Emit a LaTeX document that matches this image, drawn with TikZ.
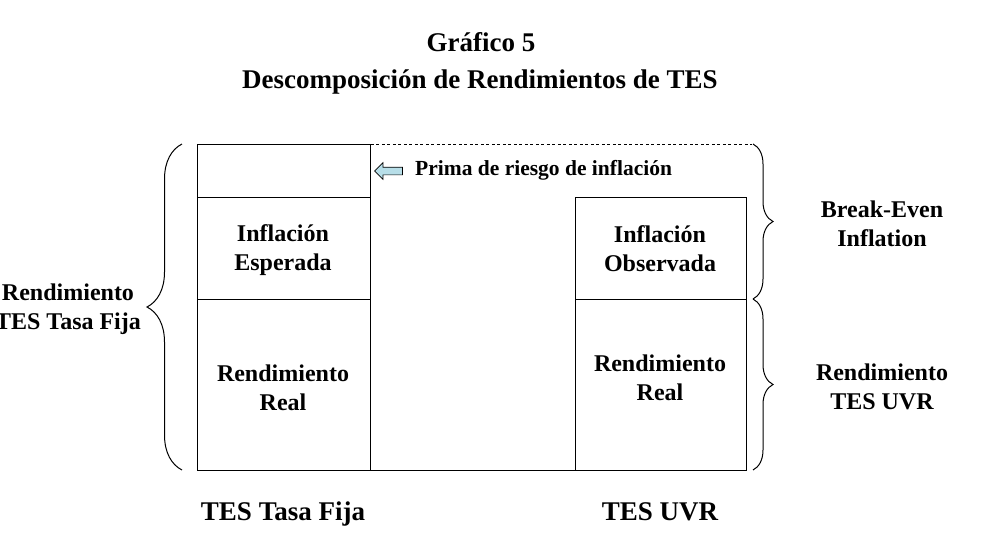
\documentclass[tikz,border=0pt]{standalone}
\usepackage{fontspec}
\setmainfont{Liberation Serif}
\usetikzlibrary{decorations.pathreplacing,shapes.arrows}
\definecolor{arrowblue}{HTML}{B7DEE8}
\begin{document}
\begin{tikzpicture}[x=1pt,y=-1pt,
  lbl/.style={font=\bfseries\fontsize{24}{29}\selectfont, align=center, inner sep=0pt},
  big/.style={font=\bfseries\fontsize{27}{32}\selectfont, align=center, inner sep=0pt},
  cell/.style={draw, line width=0.9pt, inner sep=0pt, anchor=north west},
  bracestyle/.style={decorate, decoration={brace, amplitude=#1}, line width=1pt}]
\useasboundingbox[fill=white] (0,0) rectangle (1002,555);

% titles
\node[big] (t1) at (481,42) {Gráfico 5};
\node[big] (t2) at (480,82) {Descomposición de Rendimientos de TES};

% left column
\node[cell, minimum width=173, minimum height=53] (lt) at (197,144) {};
\node[cell, minimum width=173, minimum height=102] (lm) at (197,197) {};
\node[cell, minimum width=173, minimum height=171] (lb) at (197,299) {};
% right column
\node[cell, minimum width=171, minimum height=102] (rm) at (575,197) {};
\node[cell, minimum width=171, minimum height=171] (rb) at (575,299) {};

\draw[line width=0.9pt] (lb.south east) -- (rb.south west);
\coordinate (dend) at (752,144);
\draw[line width=0.8pt, dash pattern=on 3pt off 2.5pt] (lt.north east) -- (dend);

% labels inside boxes
\node[lbl] (le) at (283,250) {Inflación\\Esperada};
\node[lbl] (lr) at (283,388) {Rendimiento\\Real};
\node[lbl] (ro) at (660,249) {Inflación\\Observada};
\node[lbl] (rr) at (660,378) {Rendimiento\\Real};

% prima de riesgo
\node[single arrow, draw, line width=0.7pt, fill=arrowblue, shape border rotate=180,
      minimum height=28, minimum width=16, single arrow head extend=4.5,
      single arrow head indent=0, inner xsep=0pt, inner ysep=3.5pt] (arr) at (390.5,171) {};
\node[font=\bfseries\fontsize{21.5}{26}\selectfont, inner sep=0pt, anchor=west] (prima) at (415,170) {Prima de riesgo de inflación};

% braces
\coordinate (lbr1) at (182,470);
\coordinate (lbr2) at (182,144);
\draw[bracestyle=35] (lbr1) -- (lbr2);
\coordinate (rbr1) at (753,144);
\coordinate (rbr2) at (753,299);
\coordinate (rbr3) at (753,470);
\draw[bracestyle=20] (rbr1) -- (rbr2);
\draw[bracestyle=20] (rbr2) -- (rbr3);

% side labels
\node[lbl] (lf) at (68,309.5) {Rendimiento\\TES Tasa Fija};
\node[lbl] (be) at (882,224) {Break-Even\\Inflation};
\node[lbl] (ru) at (882,387) {Rendimiento\\TES UVR};

% bottom labels
\node[big, anchor=base] (b1) at (283,520) {TES Tasa Fija};
\node[big, anchor=base] (b2) at (660,520) {TES UVR};
\end{tikzpicture}
\end{document}
